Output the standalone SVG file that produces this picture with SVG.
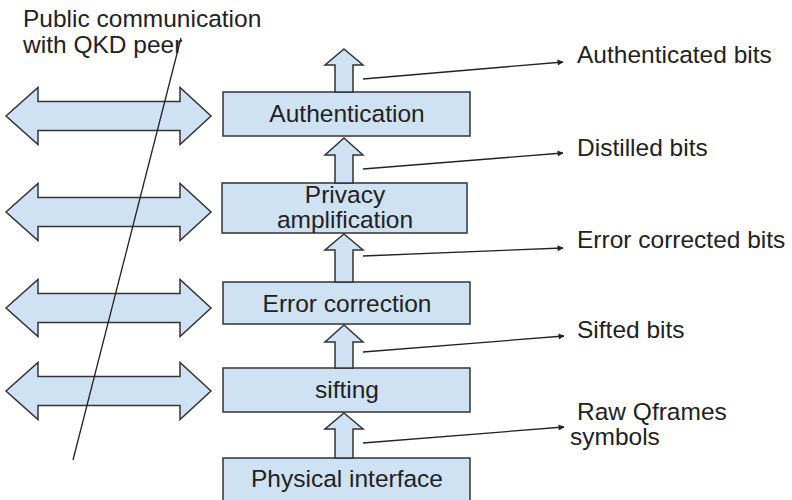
<svg xmlns="http://www.w3.org/2000/svg" width="792" height="500" viewBox="0 0 792 500">
<defs>
<style>
.box{fill:#cfe2f3;stroke:#333;stroke-width:1.5}
.arr{fill:#cfe2f3;stroke:#333;stroke-width:1.5;stroke-linejoin:miter}
.t{font-family:"Liberation Sans",Arial,sans-serif;font-size:24.5px;fill:#222}
.c{text-anchor:middle}
.ln{stroke:#222;stroke-width:1.3;fill:none}
</style>
<marker id="ah" viewBox="0 0 10 10" refX="9" refY="5" markerWidth="8" markerHeight="6" markerUnits="userSpaceOnUse" orient="auto">
<path d="M0,0 L10,5 L0,10 Z" fill="#222"/>
</marker>
<path id="dbl" d="M6,0 L38,-28.5 L38,-14.5 L180,-14.5 L180,-28.5 L211,0 L180,28.5 L180,14.5 L38,14.5 L38,28.5 Z"/>
</defs>
<rect width="792" height="500" fill="#fff"/>

<g id="public-label">
<text class="t" x="23" y="27">Public communication</text>
<text class="t" x="23" y="53">with QKD peer</text>
</g>

<g id="public-channels">
<use href="#dbl" class="arr" transform="translate(0,116)"/>
<use href="#dbl" class="arr" transform="translate(0,212)"/>
<use href="#dbl" class="arr" transform="translate(0,308)"/>
<use href="#dbl" class="arr" transform="translate(0,391)"/>
</g>

<g id="node-authentication">
<rect class="box" x="223" y="92" width="247" height="44"/>
<text class="t c" x="347" y="122">Authentication</text>
</g>
<g id="node-privacy">
<rect class="box" x="222" y="183" width="245" height="50"/>
<text class="t c" x="345" y="203">Privacy</text>
<text class="t c" x="345" y="228">amplification</text>
</g>
<g id="node-error-correction">
<rect class="box" x="223" y="282" width="247" height="42"/>
<text class="t c" x="347" y="312">Error correction</text>
</g>
<g id="node-sifting">
<rect class="box" x="223" y="368" width="247" height="44"/>
<text class="t c" x="347" y="398">sifting</text>
</g>
<g id="node-physical">
<rect class="box" x="223" y="458" width="247" height="50"/>
<text class="t c" x="347" y="487">Physical interface</text>
</g>

<g id="connectors">
<path class="arr" d="M344,49 L363,65 L353,65 L353,92 L335,92 L335,65 L325,65 Z"/>
<path class="arr" d="M344,138 L363,155 L353,155 L353,183 L335,183 L335,155 L325,155 Z"/>
<path class="arr" d="M344,234 L363,250 L353,250 L353,282 L335,282 L335,250 L325,250 Z"/>
<path class="arr" d="M344,325 L363,342 L353,342 L353,368 L335,368 L335,342 L325,342 Z"/>
<path class="arr" d="M344,413 L363,429 L353,429 L353,458 L335,458 L335,429 L325,429 Z"/>
<line class="ln" x1="181" y1="38" x2="73" y2="460"/>
<line class="ln" x1="363" y1="79" x2="563" y2="62" marker-end="url(#ah)"/>
<line class="ln" x1="363" y1="169" x2="563" y2="153" marker-end="url(#ah)"/>
<line class="ln" x1="363" y1="256" x2="563" y2="248" marker-end="url(#ah)"/>
<line class="ln" x1="363" y1="352" x2="564" y2="336" marker-end="url(#ah)"/>
<line class="ln" x1="363" y1="443" x2="564" y2="427" marker-end="url(#ah)"/>
</g>

<g id="output-labels">
<text class="t" x="577" y="63">Authenticated bits</text>
<text class="t" x="577" y="156">Distilled bits</text>
<text class="t" x="577" y="248">Error corrected bits</text>
<text class="t" x="577" y="338">Sifted bits</text>
<text class="t" x="577" y="420">Raw Qframes</text>
<text class="t" x="570" y="445">symbols</text>
</g>
</svg>
